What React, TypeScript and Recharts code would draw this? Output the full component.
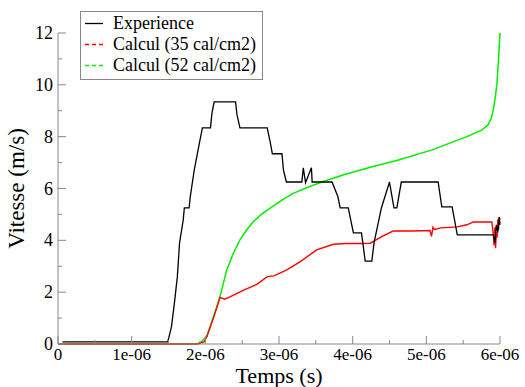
import React from 'react';
import { LineChart, Line, XAxis, YAxis, Legend } from 'recharts';

// time in microseconds (labels show e-06), speed in m/s
const expT = [0.06, 1.49, 1.54, 1.58, 1.62, 1.65, 1.70, 1.715, 1.78, 1.795, 1.85, 1.92, 1.96, 2.07, 2.09, 2.12, 2.41, 2.43, 2.47, 2.84, 2.88, 2.91, 3.04, 3.06, 3.10, 3.31, 3.33, 3.36, 3.44, 3.45, 3.72, 3.80, 3.83, 3.94, 4.01, 4.12, 4.17, 4.26, 4.29, 4.39, 4.50, 4.56, 4.60, 4.66, 5.16, 5.21, 5.35, 5.42, 5.91, 5.93, 5.95, 5.97, 5.99, 6.0];
const expV = [0.08, 0.08, 0.66, 1.58, 2.59, 3.90, 4.79, 5.25, 5.25, 5.68, 6.72, 7.76, 8.34, 8.34, 8.92, 9.34, 9.34, 8.84, 8.34, 8.34, 7.80, 7.34, 7.34, 6.72, 6.25, 6.25, 6.80, 6.22, 6.80, 6.25, 6.25, 5.68, 5.25, 5.25, 4.29, 4.29, 3.20, 3.20, 3.90, 5.25, 6.25, 5.25, 5.25, 6.25, 6.25, 5.29, 5.29, 4.21, 4.21, 3.9, 4.6, 4.3, 4.9, 4.6];

const c35T = [0, 1.90, 1.98, 2.02, 2.11, 2.20, 2.26, 2.32, 2.52, 2.70, 2.84, 2.93, 3.10, 3.29, 3.51, 3.74, 3.90, 4.10, 4.24, 4.40, 4.55, 4.80, 5.05, 5.07, 5.09, 5.11, 5.20, 5.42, 5.55, 5.64, 5.89, 5.91, 5.92, 5.93, 5.94, 5.95, 5.96, 5.97, 5.98, 5.99, 6.0];
const c35V = [0, 0, 0.08, 0.28, 1.0, 1.8, 1.73, 1.80, 2.08, 2.3, 2.60, 2.63, 2.85, 3.18, 3.63, 3.85, 3.88, 3.88, 3.89, 4.15, 4.36, 4.36, 4.38, 4.15, 4.5, 4.42, 4.48, 4.52, 4.6, 4.71, 4.71, 4.2, 3.8, 4.5, 3.7, 4.3, 4.1, 4.8, 4.4, 4.9, 4.8];

const c52T = [0, 1.80, 1.90, 1.95, 2.02, 2.08, 2.15, 2.22, 2.29, 2.38, 2.47, 2.56, 2.65, 2.76, 2.88, 3.04, 3.20, 3.40, 3.60, 3.90, 4.24, 4.62, 5.08, 5.55, 5.75, 5.84, 5.88, 5.91, 5.94, 5.96, 5.98, 6.0];
const c52V = [0, 0, 0.02, 0.1, 0.3, 0.8, 1.39, 2.05, 2.86, 3.5, 4.02, 4.4, 4.72, 5.0, 5.24, 5.55, 5.82, 6.06, 6.27, 6.55, 6.82, 7.1, 7.49, 8.0, 8.25, 8.46, 8.7, 9.03, 9.6, 10.1, 11, 12];

const xTicks = [0, 0.5, 1, 1.5, 2, 2.5, 3, 3.5, 4, 4.5, 5, 5.5, 6];
const yTicks = [0, 1, 2, 3, 4, 5, 6, 7, 8, 9, 10, 11, 12];

const seriesNames = ['Experience', 'Calcul (35 cal/cm2)', 'Calcul (52 cal/cm2)'];
const seriesColors = ['#000000', '#ff0000', '#00ee00'];

const zip = (ts: number[], vs: number[]) => ts.map((t, i) => ({ t, v: vs[i] }));
const expData = zip(expT, expV);
const c35Data = zip(c35T, c35V);
const c52Data = zip(c52T, c52V);

const FONT = 'Liberation Serif';
const AXIS = '#888888';

const fmtX = (v: number) => (v === 0 ? '0' : `${v}e-06`);

// tick marks point into the plot; labels only on the major ticks
const BottomTick = (props: any) => {
  const { x, y, payload } = props;
  const major = Number.isInteger(payload.value);
  return (
    <g>
      <line x1={x} y1={y} x2={x} y2={y - (major ? 8 : 4)} stroke={AXIS} />
      {major && (
        <text x={x} y={y + 16} textAnchor="middle" style={{ fontSize: 17, fontFamily: FONT }} fill="#000">
          {fmtX(payload.value)}
        </text>
      )}
    </g>
  );
};

const TopTick = (props: any) => {
  const { x, y, payload } = props;
  const major = Number.isInteger(payload.value);
  return <line x1={x} y1={y} x2={x} y2={y + (major ? 8 : 4)} stroke={AXIS} />;
};

const LeftTick = (props: any) => {
  const { x, y, payload } = props;
  const major = payload.value % 2 === 0;
  return (
    <g>
      <line x1={x} y1={y} x2={x + (major ? 8 : 4)} y2={y} stroke={AXIS} />
      {major && (
        <text x={x - 5} y={y + 6} textAnchor="end" style={{ fontSize: 18, fontFamily: FONT }} fill="#000">
          {payload.value}
        </text>
      )}
    </g>
  );
};

const RightTick = (props: any) => {
  const { x, y, payload } = props;
  const major = payload.value % 2 === 0;
  return <line x1={x} y1={y} x2={x - (major ? 8 : 4)} y2={y} stroke={AXIS} />;
};

const YLabel = (props: any) => {
  const vb = props.viewBox;
  const cx = vb.x + 24;
  const cy = vb.y + vb.height / 2;
  return (
    <text x={cx} y={cy} transform={`rotate(-90 ${cx} ${cy})`} textAnchor="middle" style={{ fontSize: 23, fontFamily: FONT }} fill="#000">
      Vitesse (m/s)
    </text>
  );
};

const XLabel = (props: any) => {
  const vb = props.viewBox;
  const cx = vb.x + vb.width / 2;
  return (
    <text x={cx} y={vb.y + vb.height - 4} textAnchor="middle" style={{ fontSize: 22, fontFamily: FONT }} fill="#000">
      Temps (s)
    </text>
  );
};

const LegendBox = () => (
  <div style={{ border: `1px solid ${AXIS}`, background: '#fff', width: 181, height: 66, boxSizing: 'content-box', paddingTop: 1, fontFamily: FONT, fontSize: 18, color: '#000' }}>
    {seriesNames.map((name, i) => (
      <div key={name} style={{ display: 'flex', alignItems: 'center', height: 21 }}>
        <svg width={32} height={21}>
          <line x1={4} y1={10.5} x2={22} y2={10.5} stroke={seriesColors[i]} strokeWidth={1.3} strokeDasharray={i === 0 ? undefined : '4 3'} />
        </svg>
        <span style={{ whiteSpace: 'nowrap', lineHeight: '21px' }}>{name}</span>
      </div>
    ))}
  </div>
);

export default function App() {
  return (
    <div style={{ position: 'absolute', left: 0, top: 0, background: '#fff', fontFamily: FONT }}>
      <LineChart width={525} height={387} margin={{ top: 33, right: 25, bottom: 0, left: 0 }}>
        <XAxis
          xAxisId="b"
          dataKey="t"
          type="number"
          domain={[0, 6]}
          ticks={xTicks}
          interval={0}
          height={43}
          tickSize={0}
          tickMargin={0}
          tickLine={false}
          stroke={AXIS}
          tick={BottomTick}
          label={{ content: XLabel }}
        />
        <XAxis
          xAxisId="top"
          orientation="top"
          dataKey="t"
          type="number"
          domain={[0, 6]}
          ticks={xTicks}
          interval={0}
          height={0}
          tickSize={0}
          tickMargin={0}
          tickLine={false}
          stroke={AXIS}
          tick={TopTick}
        />
        <YAxis
          yAxisId="l"
          type="number"
          domain={[0, 12]}
          ticks={yTicks}
          interval={0}
          width={58}
          tickSize={0}
          tickMargin={0}
          tickLine={false}
          stroke={AXIS}
          tick={LeftTick}
          label={{ content: YLabel }}
        />
        <YAxis
          yAxisId="r"
          orientation="right"
          type="number"
          domain={[0, 12]}
          ticks={yTicks}
          interval={0}
          width={0}
          tickSize={0}
          tickMargin={0}
          tickLine={false}
          stroke={AXIS}
          tick={RightTick}
        />
        <Legend
          layout="horizontal"
          verticalAlign="middle"
          align="center"
          content={LegendBox}
          wrapperStyle={{ left: 80, top: 11, width: 'auto' }}
        />
        <Line xAxisId="b" yAxisId="l" data={c52Data} dataKey="v" name={seriesNames[2]} type="linear" stroke={seriesColors[2]} strokeWidth={1.5} dot={false} isAnimationActive={false} />
        <Line xAxisId="b" yAxisId="l" data={c35Data} dataKey="v" name={seriesNames[1]} type="linear" stroke={seriesColors[1]} strokeWidth={1.4} dot={false} isAnimationActive={false} />
        <Line xAxisId="b" yAxisId="l" data={expData} dataKey="v" name={seriesNames[0]} type="linear" stroke={seriesColors[0]} strokeWidth={1.3} dot={false} isAnimationActive={false} />
      </LineChart>
    </div>
  );
}
